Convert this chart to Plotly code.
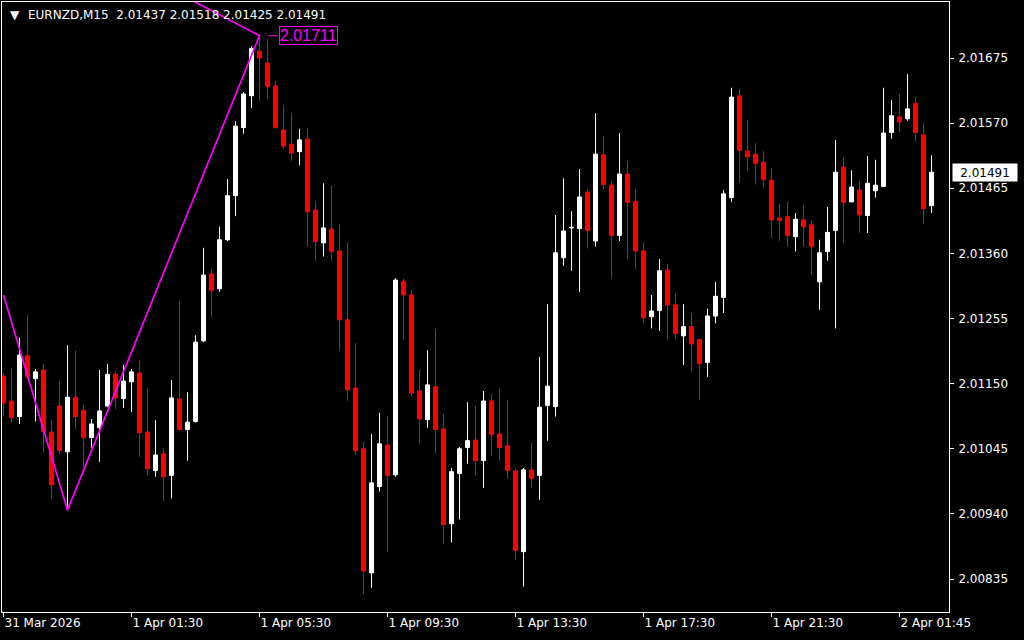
import plotly.graph_objects as go

# EURNZD M15 bars, oldest first (last bar is the live one)
opens = [
    2.01162, 2.01122, 2.01097, 2.01195, 2.01158, 2.01172, 2.01072, 2.01114, 2.01040, 2.01128,
    2.01107, 2.01063, 2.01079, 2.01114, 2.01165, 2.01126, 2.01153, 2.01167, 2.01072, 2.01010,
    2.01037, 2.01002, 2.01125, 2.01076, 2.01089, 2.01219, 2.01327, 2.01303, 2.01382, 2.01453,
    2.01563, 2.01614, 2.01686, 2.01667, 2.01630, 2.01559, 2.01536, 2.01524, 2.01544, 2.01430,
    2.01377, 2.01399, 2.01364, 2.01253, 2.01143, 2.01045, 2.00845, 2.00984, 2.01051, 2.01003,
    2.01315, 2.01293, 2.01138, 2.01092, 2.01145, 2.01077, 2.00924, 2.01005, 2.01047, 2.01059,
    2.01026, 2.01122, 2.01069, 2.01050, 2.01009, 2.00879, 2.01011, 2.01002, 2.01115, 2.01113,
    2.01353, 2.01401, 2.01400, 2.01459, 2.01380, 2.01519, 2.01470, 2.01389, 2.01488, 2.01444,
    2.01364, 2.01258, 2.01268, 2.01333, 2.01277, 2.01227, 2.01242, 2.01221, 2.01184, 2.01259,
    2.01289, 2.01450, 2.01614, 2.01525, 2.01520, 2.01507, 2.01478, 2.01417, 2.01419, 2.01387,
    2.01414, 2.01406, 2.01314, 2.01363, 2.01397, 2.01499, 2.01443, 2.01462, 2.01421, 2.01461,
    2.01468, 2.01555, 2.01580, 2.01577, 2.01602, 2.01551, 2.01437,
]
highs = [
    2.01167, 2.01175, 2.01224, 2.01261, 2.01174, 2.01182, 2.01091, 2.01154, 2.01212, 2.01203,
    2.01116, 2.01093, 2.01172, 2.01182, 2.01170, 2.01180, 2.01174, 2.01187, 2.01143, 2.01091,
    2.01046, 2.01156, 2.01283, 2.01136, 2.01228, 2.01369, 2.01335, 2.01403, 2.01480, 2.01573,
    2.01620, 2.01694, 2.01711, 2.01706, 2.01638, 2.01599, 2.01586, 2.01561, 2.01562, 2.01444,
    2.01473, 2.01469, 2.01407, 2.01378, 2.01215, 2.01056, 2.01069, 2.01103, 2.01098, 2.01320,
    2.01319, 2.01301, 2.01172, 2.01204, 2.01238, 2.01101, 2.01014, 2.01048, 2.01120, 2.01114,
    2.01138, 2.01133, 2.01143, 2.01124, 2.01013, 2.01014, 2.01054, 2.01193, 2.01278, 2.01422,
    2.01481, 2.01428, 2.01496, 2.01464, 2.01586, 2.01548, 2.01477, 2.01554, 2.01509, 2.01464,
    2.01378, 2.01293, 2.01351, 2.01343, 2.01295, 2.01278, 2.01264, 2.01222, 2.01271, 2.01314,
    2.01462, 2.01627, 2.01625, 2.01575, 2.01538, 2.01525, 2.01498, 2.01440, 2.01443, 2.01425,
    2.01438, 2.01414, 2.01382, 2.01435, 2.01543, 2.01514, 2.01494, 2.01477, 2.01517, 2.01511,
    2.01627, 2.01607, 2.01617, 2.01649, 2.01612, 2.01570, 2.01518,
]
lows = [
    2.01098, 2.01087, 2.01085, 2.01159, 2.01089, 2.01039, 2.00964, 2.01036, 2.00946, 2.01077,
    2.01016, 2.01047, 2.01024, 2.01112, 2.01109, 2.01111, 2.01104, 2.01032, 2.01002, 2.01000,
    2.00961, 2.00965, 2.01075, 2.01026, 2.01087, 2.01217, 2.01258, 2.01298, 2.01380, 2.01420,
    2.01553, 2.01594, 2.01606, 2.01609, 2.01561, 2.01528, 2.01509, 2.01502, 2.01371, 2.01347,
    2.01355, 2.01347, 2.01203, 2.01122, 2.01035, 2.00811, 2.00821, 2.00976, 2.00879, 2.01000,
    2.01221, 2.01130, 2.01053, 2.01079, 2.01037, 2.00892, 2.00894, 2.00931, 2.01021, 2.01002,
    2.00982, 2.01034, 2.01026, 2.00997, 2.00866, 2.00823, 2.00982, 2.00963, 2.01058, 2.01097,
    2.01340, 2.01332, 2.01298, 2.01368, 2.01371, 2.01463, 2.01319, 2.01380, 2.01351, 2.01335,
    2.01248, 2.01239, 2.01235, 2.01221, 2.01222, 2.01180, 2.01169, 2.01124, 2.01161, 2.01247,
    2.01264, 2.01443, 2.01474, 2.01493, 2.01471, 2.01466, 2.01385, 2.01380, 2.01371, 2.01363,
    2.01371, 2.01326, 2.01269, 2.01348, 2.01239, 2.01377, 2.01443, 2.01393, 2.01393, 2.01450,
    2.01468, 2.01545, 2.01555, 2.01574, 2.01540, 2.01408, 2.01425,
]
closes = [
    2.01119, 2.01095, 2.01196, 2.01161, 2.01169, 2.01073, 2.00987, 2.01042, 2.01128, 2.01097,
    2.01063, 2.01085, 2.01106, 2.01165, 2.01127, 2.01154, 2.01169, 2.01071, 2.01013, 2.01035,
    2.01000, 2.01127, 2.01076, 2.01088, 2.01217, 2.01325, 2.01300, 2.01382, 2.01453, 2.01565,
    2.01617, 2.01690, 2.01675, 2.01629, 2.01563, 2.01533, 2.01522, 2.01543, 2.01427, 2.01379,
    2.01401, 2.01363, 2.01253, 2.01140, 2.01042, 2.00848, 2.00990, 2.01053, 2.01002, 2.01317,
    2.01293, 2.01135, 2.01093, 2.01148, 2.01076, 2.00923, 2.01008, 2.01045, 2.01058, 2.01026,
    2.01122, 2.01068, 2.01047, 2.01010, 2.00881, 2.01011, 2.00997, 2.01112, 2.01146, 2.01361,
    2.01396, 2.01402, 2.01451, 2.01397, 2.01520, 2.01471, 2.01389, 2.01488, 2.01442, 2.01364,
    2.01256, 2.01267, 2.01332, 2.01277, 2.01231, 2.01242, 2.01214, 2.01182, 2.01259, 2.01291,
    2.01456, 2.01612, 2.01526, 2.01516, 2.01505, 2.01479, 2.01414, 2.01413, 2.01389, 2.01415,
    2.01403, 2.01371, 2.01361, 2.01394, 2.01491, 2.01442, 2.01467, 2.01422, 2.01473, 2.01470,
    2.01554, 2.01582, 2.01572, 2.01593, 2.01555, 2.01432, 2.01491,
]

# zigzag vertices (bar index, price)
zigzag_bar = [0, 8, 32, 20]
zigzag_price = [2.01293, 2.00946, 2.01711, 2.01792]
zigzag_label = "2.01711"

price_ticks = [2.01675, 2.01570, 2.01465, 2.01360, 2.01255, 2.01150, 2.01045, 2.00940, 2.00835]
time_tick_bars = [0, 16, 32, 48, 64, 80, 96, 112]
time_tick_labels = ["31 Mar 2026", "1 Apr 01:30", "1 Apr 05:30", "1 Apr 09:30",
                    "1 Apr 13:30", "1 Apr 17:30", "1 Apr 21:30", "2 Apr 01:45"]

symbol = "EURNZD,M15"
last_price = closes[-1]

BULL = "#FFFFFF"
BEAR = "#FF0000"
ZZ = "#FF00FF"
FONT = "DejaVu Sans"

bars = list(range(len(opens)))
colors = [BULL if c >= o else BEAR for o, c in zip(opens, closes)]

fig = go.Figure()

# wicks, one trace per colour
for col in (BULL, BEAR):
    wx, wy = [], []
    for i in bars:
        if colors[i] == col:
            wx += [i, i, None]
            wy += [lows[i], highs[i], None]
    fig.add_trace(go.Scatter(x=wx, y=wy, mode="lines", line=dict(color=col, width=1),
                             hoverinfo="skip"))

# bodies
fig.add_trace(go.Bar(
    x=bars,
    y=[abs(c - o) for o, c in zip(opens, closes)],
    base=[min(o, c) for o, c in zip(opens, closes)],
    width=0.5,
    marker=dict(color=colors, line=dict(color=colors, width=1)),
))

# zigzag
fig.add_trace(go.Scatter(x=zigzag_bar, y=zigzag_price, mode="lines",
                         line=dict(color=ZZ, width=1.7), hoverinfo="skip"))

fig.add_shape(type="line", xref="x", yref="y", xsizemode="pixel", xanchor=32,
              x0=9, x1=18, y0=zigzag_price[2], y1=zigzag_price[2],
              line=dict(color=ZZ, width=1))
fig.add_annotation(x=32, y=zigzag_price[2], text=zigzag_label, showarrow=False,
                   xanchor="left", yanchor="middle", xshift=19,
                   font=dict(family="Liberation Sans", size=16, color=ZZ),
                   bordercolor=ZZ, borderwidth=1, borderpad=0)

# header
ohlc_text = "  ".join([symbol, " ".join(f"{v:.5f}" for v in
                                       (opens[-1], highs[-1], lows[-1], closes[-1]))])
fig.add_annotation(xref="paper", yref="paper", x=0, y=1, xanchor="left", yanchor="top",
                   xshift=6, yshift=-4, text="▼", showarrow=False,
                   font=dict(family=FONT, size=12, color="white"))
fig.add_annotation(xref="paper", yref="paper", x=0, y=1, xanchor="left", yanchor="top",
                   xshift=24, yshift=-4, text=ohlc_text, showarrow=False,
                   font=dict(family=FONT, size=12, color="white"))

# current price tag
fig.add_annotation(xref="paper", yref="y", x=1, y=last_price, xanchor="left",
                   yanchor="middle", xshift=3, text=f"{last_price:.5f}", showarrow=False,
                   bgcolor="white", font=dict(family=FONT, size=12, color="black"),
                   borderpad=1, width=62, height=15, align="center")

fig.update_layout(
    width=1024, height=640,
    margin=dict(l=2, r=75, t=2, b=28),
    paper_bgcolor="black", plot_bgcolor="black",
    showlegend=False, barmode="overlay",
    xaxis=dict(range=[-0.1875, 118.1875], showgrid=False, zeroline=False,
               showline=True, mirror=True, linecolor="white", linewidth=1,
               tickvals=time_tick_bars, ticktext=time_tick_labels,
               ticks="outside", ticklen=4, tickcolor="white",
               ticklabelposition="outside right",
               tickfont=dict(family=FONT, size=12, color="white")),
    yaxis=dict(range=[2.007818, 2.017653], side="right", showgrid=False, zeroline=False,
               showline=True, mirror=True, linecolor="white", linewidth=1,
               tickvals=price_ticks, ticktext=[f"{p:.5f}" for p in price_ticks],
               ticks="outside", ticklen=4, tickcolor="white", ticklabelstandoff=2,
               tickfont=dict(family=FONT, size=12, color="white")),
)

# page body has a default 8px margin; drop it so the figure sits at the window corner
fig.write_html("out.html", config={"displayModeBar": False},
               post_script="document.body.style.margin='0px';")
